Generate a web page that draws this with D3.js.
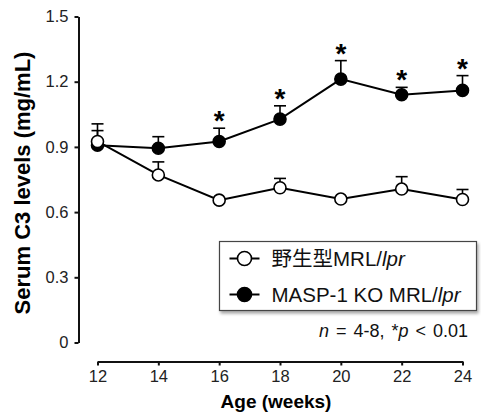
<!DOCTYPE html>
<html>
<head>
<meta charset="utf-8">
<script src="https://cdn.jsdelivr.net/npm/d3@7"></script>
<style>
  body { margin: 0; background: #fff; }
  svg { display: block; font-family: "Liberation Sans", Arial, "Noto Sans CJK JP", sans-serif; }
</style>
</head>
<body>
<div id="chart"></div>
<script>
// values
const weeks = [12, 14, 16, 18, 20, 22, 24];
const wildMean = [0.925, 0.771, 0.655, 0.712, 0.660, 0.706, 0.658];
const wildErr  = [0.081, 0.060, 0.010, 0.043, 0.010, 0.057, 0.046];
const koMean   = [0.908, 0.894, 0.925, 1.028, 1.212, 1.140, 1.160];
const koErr    = [0.067, 0.053, 0.061, 0.061, 0.085, 0.034, 0.068];
const koSignificant = [false, false, true, true, true, true, true];
const yTicks = [0, 0.3, 0.6, 0.9, 1.2, 1.5];
const legendLabels = ["野生型MRL/", "MASP-1 KO MRL/"];

const width = 481, height = 414;

const svg = d3.select("#chart")
    .append("svg")
    .attr("width", width)
    .attr("height", height);

const x = d3.scaleLinear().domain([12, 24]).range([97.5, 462.5]);
const y = d3.scaleLinear().domain([0, 1.5]).range([342.5, 16.5]);

// y axis
const yAxis = svg.append("g")
    .attr("transform", "translate(78.5,0)")
    .call(d3.axisLeft(y).tickValues(yTicks).tickSize(4).tickSizeOuter(0)
        .tickPadding(6).tickFormat(d => d === 0 ? "0" : d3.format(".1f")(d)));

// x axis, detached below the plot
const xAxis = svg.append("g")
    .attr("transform", "translate(0,361.5)")
    .call(d3.axisBottom(x).tickValues(weeks).tickSize(4).tickSizeOuter(0).tickPadding(5));

[yAxis, xAxis].forEach(g => {
    g.select(".domain").attr("stroke", "#111").attr("stroke-width", 2);
    g.selectAll(".tick line").attr("stroke", "#111").attr("stroke-width", 2);
    g.selectAll(".tick text").attr("fill", "#222").style("font-size", "16.5px");
});

// axis titles
svg.append("text")
    .attr("transform", "translate(30,183) rotate(-90)")
    .attr("text-anchor", "middle")
    .style("font-size", "22px")
    .style("font-weight", "bold")
    .text("Serum C3 levels (mg/mL)");

svg.append("text")
    .attr("x", 276)
    .attr("y", 408)
    .attr("text-anchor", "middle")
    .style("font-size", "19px")
    .style("font-weight", "bold")
    .text("Age (weeks)");

const line = d3.line().x((d, i) => x(weeks[i])).y(d => y(d));

function drawSeries(means, errs, fill) {
    const g = svg.append("g");
    g.append("path")
        .datum(means)
        .attr("d", line)
        .attr("fill", "none")
        .attr("stroke", "#000")
        .attr("stroke-width", 2);

    // upper error bars only
    const bars = g.selectAll(".err")
        .data(means)
        .join("g");
    bars.append("line")
        .attr("x1", (d, i) => x(weeks[i]))
        .attr("x2", (d, i) => x(weeks[i]))
        .attr("y1", d => y(d))
        .attr("y2", (d, i) => y(d + errs[i]))
        .attr("stroke", "#000")
        .attr("stroke-width", 1.6);
    bars.append("line")
        .attr("x1", (d, i) => x(weeks[i]) - 6)
        .attr("x2", (d, i) => x(weeks[i]) + 6)
        .attr("y1", (d, i) => y(d + errs[i]))
        .attr("y2", (d, i) => y(d + errs[i]))
        .attr("stroke", "#000")
        .attr("stroke-width", 1.6);

    g.selectAll("circle")
        .data(means)
        .join("circle")
        .attr("cx", (d, i) => x(weeks[i]))
        .attr("cy", d => y(d))
        .attr("r", 6)
        .attr("fill", fill)
        .attr("stroke", "#000")
        .attr("stroke-width", 1.6);
}

drawSeries(koMean, koErr, "#000");
drawSeries(wildMean, wildErr, "#fff");

// significance marks above the KO error bars
const starIdx = weeks.map((w, i) => i).filter(i => koSignificant[i]);
svg.selectAll(".star")
    .data(starIdx)
    .join("text")
    .attr("x", i => x(weeks[i]))
    .attr("y", i => y(koMean[i] + koErr[i]) + 2)
    .attr("text-anchor", "middle")
    .style("font-size", "28px")
    .style("font-weight", "bold")
    .text("*");

// legend
const defs = svg.append("defs");
const shadow = defs.append("filter").attr("id", "shadow")
    .attr("x", "-10%").attr("y", "-10%").attr("width", "130%").attr("height", "140%");
shadow.append("feDropShadow")
    .attr("dx", 1.5).attr("dy", 2.5).attr("stdDeviation", 1.5)
    .attr("flood-color", "#000").attr("flood-opacity", 0.35);

const legend = svg.append("g");
legend.append("rect")
    .attr("x", 219.5).attr("y", 241.5)
    .attr("width", 257).attr("height", 69)
    .attr("fill", "#fff")
    .attr("stroke", "#444")
    .attr("stroke-width", 1.2)
    .attr("filter", "url(#shadow)");

const rows = [{ label: legendLabels[0], fill: "#fff", cy: 258.5 },
              { label: legendLabels[1], fill: "#000", cy: 294.5 }];
rows.forEach(r => {
    legend.append("line")
        .attr("x1", 229.5).attr("x2", 259.5)
        .attr("y1", r.cy).attr("y2", r.cy)
        .attr("stroke", "#000").attr("stroke-width", 2);
    legend.append("circle")
        .attr("cx", 244.5).attr("cy", r.cy).attr("r", 7)
        .attr("fill", r.fill).attr("stroke", "#000").attr("stroke-width", 1.6);
    const t = legend.append("text")
        .attr("x", 271.5).attr("y", r.cy + 7)
        .style("font-size", "20.5px")
        .attr("fill", "#111");
    t.append("tspan").text(r.label);
    t.append("tspan").style("font-style", "italic").text("lpr");
});

// sample size note
const note = svg.append("text")
    .attr("x", 468).attr("y", 337)
    .attr("text-anchor", "end")
    .style("font-size", "18px")
    .style("word-spacing", "2px")
    .attr("fill", "#111");
note.append("tspan").style("font-style", "italic").text("n");
note.append("tspan").text(" = 4-8, *");
note.append("tspan").style("font-style", "italic").text("p");
note.append("tspan").text(" < 0.01");
</script>
</body>
</html>
